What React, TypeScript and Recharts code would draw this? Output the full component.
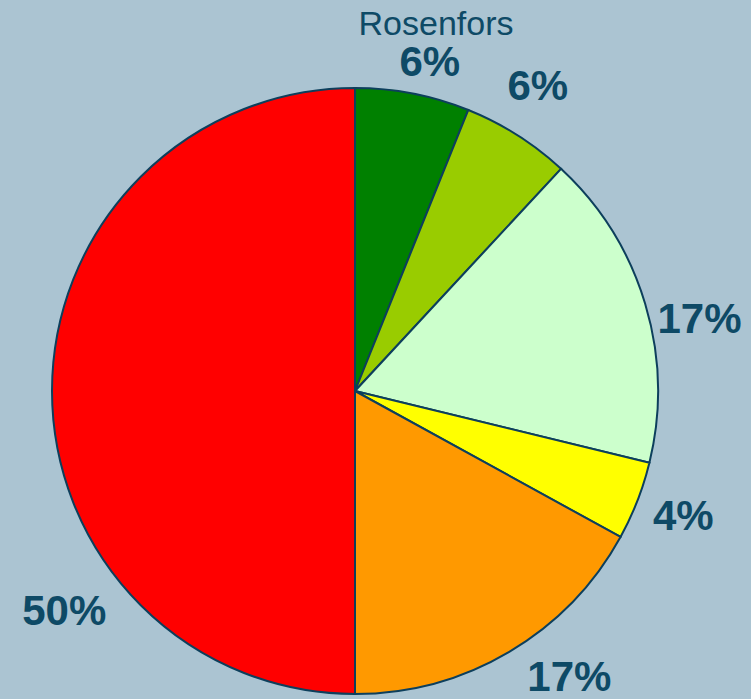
import React from "react";
import { PieChart, Pie, Cell, Customized } from "recharts";

const categories = ["A", "B", "C", "D", "E", "F"];
const values = [6.1, 5.8, 16.9, 4.2, 17, 50];
const colors = ["#008000", "#99CC00", "#CCFFCC", "#FFFF00", "#FF9900", "#FF0000"];
const title = "Rosenfors";

// layout tweaks for label placement (clockwise degrees shift, radius)
const labelAngleShift = [1.8, -1.5, 4.9, -0.5, -6.3, -37];
const labelRadius = [338, 356, 352, 351, 357, 364];

const data = categories.map((name, i) => ({ name, value: values[i] }));

const W = 751;
const H = 699;
const CX = 355;
const CY = 391;
const R = 303;
const TEXT = "#0E4A66";
const FONT = "'Liberation Sans', Arial, sans-serif";

const renderLabel = (props: any) => {
  const { midAngle, percent, index } = props;
  const clock = 90 - midAngle + labelAngleShift[index];
  const rad = (clock * Math.PI) / 180;
  const r = labelRadius[index];
  const x = CX + r * Math.sin(rad);
  const y = CY - r * Math.cos(rad);
  return (
    <text
      x={x}
      y={y}
      textAnchor="middle"
      dominantBaseline="central"
      fill={TEXT}
      fontFamily={FONT}
      fontWeight="bold"
      fontSize={42}
    >
      {`${Math.round(percent * 100)}%`}
    </text>
  );
};

const Title = () => (
  <text x={436} y={35} textAnchor="middle" fill={TEXT} fontFamily={FONT} fontSize={34}>
    {title}
  </text>
);

export default function App() {
  return (
    <div style={{ position: "absolute", left: 0, top: 0, width: W, height: H, background: "#ABC4D2" }}>
      <PieChart width={W} height={H} margin={{ top: 0, right: 0, bottom: 0, left: 0 }}>
        <Pie
          data={data}
          dataKey="value"
          nameKey="name"
          cx={CX}
          cy={CY}
          outerRadius={R}
          startAngle={90}
          endAngle={-270}
          stroke="#0D3F5C"
          strokeWidth={2}
          label={renderLabel}
          labelLine={false}
          isAnimationActive={false}
        >
          {data.map((d, i) => (
            <Cell key={d.name} fill={colors[i]} />
          ))}
        </Pie>
        <Customized component={Title} />
      </PieChart>
    </div>
  );
}
